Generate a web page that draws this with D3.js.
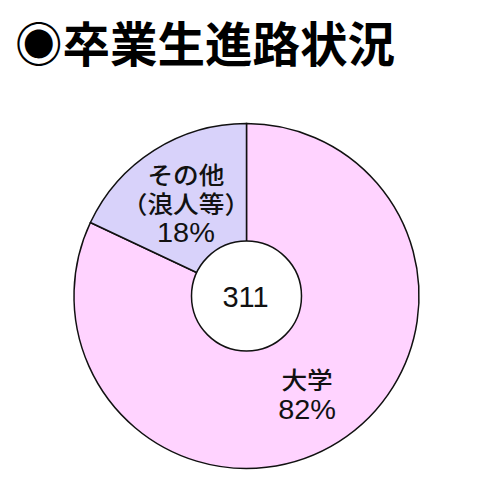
<!DOCTYPE html>
<html>
<head>
<meta charset="utf-8">
<script src="https://cdn.jsdelivr.net/npm/d3@7"></script>
<style>
  body { margin: 0; background: #fff; }
  svg { display: block; }
</style>
</head>
<body>
<svg id="chart" width="490" height="500"></svg>
<script>
// data
var titleText = "◉卒業生進路状況";
var categories = ["大学", "その他"];
var subLabels = [null, "（浪人等）"];
var percents = [82, 18];
var total = 311;
var colors = ["#FFD3FF", "#D8D2FA"];

var svg = d3.select("#chart");
var cx = 246.5, cy = 296;
var outerR = 172.5, innerR = 55, labelR = 113;

svg.append("text")
    .attr("x", 15)
    .attr("y", 62)
    .style("font-family", "'Noto Sans CJK JP', sans-serif")
    .style("font-weight", "bold")
    .style("font-size", "47.5px")
    .style("fill", "#000")
    .text(titleText);

var pie = d3.pie().sort(null).value(function (d) { return d; });
var arcs = pie(percents);

var arc = d3.arc().innerRadius(0).outerRadius(outerR);
var labelArc = d3.arc().innerRadius(labelR).outerRadius(labelR);

var g = svg.append("g").attr("transform", "translate(" + cx + "," + cy + ")");

g.selectAll(".slice")
    .data(arcs)
    .enter()
    .append("path")
    .attr("class", "slice")
    .attr("d", arc)
    .style("fill", function (d, i) { return colors[i]; })
    .style("stroke", "#111")
    .style("stroke-width", 1.5);

// hole in the middle
g.append("circle")
    .attr("r", innerR)
    .style("fill", "#fff")
    .style("stroke", "#111")
    .style("stroke-width", 1.5);

g.append("text")
    .attr("x", -1)
    .attr("y", 10.5)
    .attr("text-anchor", "middle")
    .style("font-family", "'Liberation Sans', Arial, sans-serif")
    .style("font-size", "29px")
    .style("fill", "#111")
    .text(total);

// multi-line slice labels, one text each
var lineH = 29;
arcs.forEach(function (d, i) {
    var c = labelArc.centroid(d);
    var lines = [{ t: categories[i], num: false }];
    if (subLabels[i]) lines.push({ t: subLabels[i], num: false });
    lines.push({ t: percents[i] + "%", num: true });
    var y0 = c[1] + 3 - (lines.length - 1) * lineH / 2;
    var label = g.append("text")
        .attr("text-anchor", "middle")
        .attr("transform", "translate(" + c[0] + ",0) scale(1.07,1) translate(" + (-c[0]) + ",0)")
        .style("fill", "#111");
    lines.forEach(function (ln, k) {
        label.append("tspan")
            .attr("x", c[0])
            .attr("y", y0 + k * lineH + (ln.num ? 9.7 : 9.1))
            .style("font-family", ln.num ? "'Liberation Sans', Arial, sans-serif" : "'Noto Sans CJK JP', sans-serif")
            .style("font-weight", ln.num ? "normal" : "500")
            .style("font-size", ln.num ? "27px" : "24px")
            .text(ln.t);
    });
});
</script>
</body>
</html>
